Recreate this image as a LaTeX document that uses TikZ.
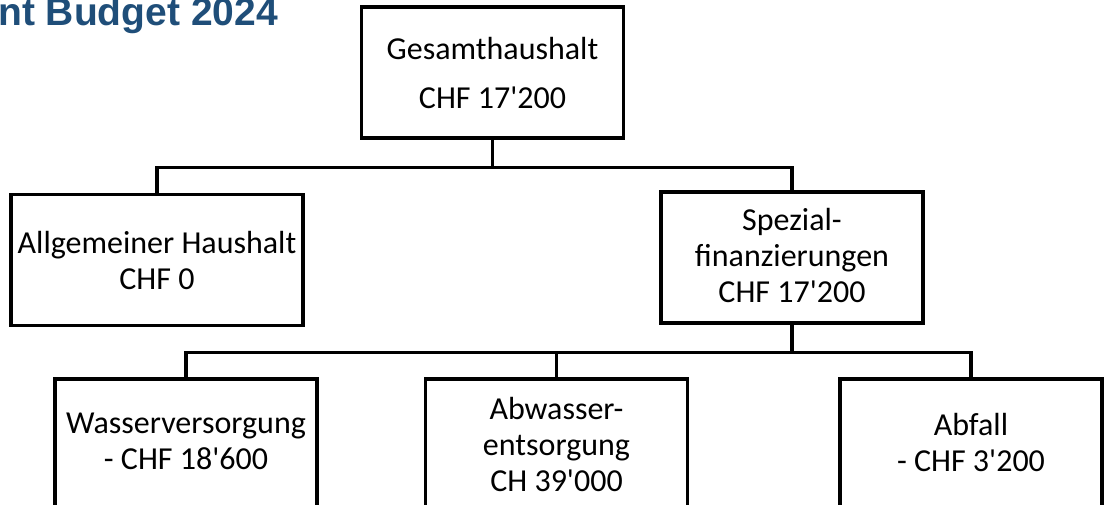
\documentclass[tikz,border=0pt]{standalone}
\usepackage{fontspec}
\setmainfont{Carlito}[Ligatures=TeXOff]
\newfontfamily\titlefont{Liberation Sans}
\usetikzlibrary{positioning}
\definecolor{titleblue}{HTML}{1F4E79}

\begin{document}
\begin{tikzpicture}[x=1pt, y=-1pt,
		box/.style={draw, line width=3.2pt, minimum width=262pt, minimum height=131pt, inner sep=0pt},
		boxtext/.style={align=center, inner sep=0pt, font=\fontsize{32}{36}\selectfont},
		link/.style={line width=3.2pt}]
	\useasboundingbox (0,0) rectangle (1104,504);
	\clip (0,0) rectangle (1104,504);
	% title (cut off at the left edge)
	\node[anchor=base east, inner sep=0pt, text=titleblue, font=\titlefont\bfseries\fontsize{39}{44}\selectfont] (title) at (278,25) {nt Budget 2024};
	% boxes
	\node[box] (gesamt) at (492.5,72.5) {};
	\node[box, minimum width=292pt] (allg) at (157,260) {};
	\node[box] (spez) at (792,257.5) {};
	\node[box] (wasser) at (186,444.5) {};
	\node[box] (abwasser) at (556.5,444.5) {};
	\node[box] (abfall) at (971,444.5) {};
	% texts
	\node[boxtext] (gesamt-t) at (gesamt) {Gesamthaushalt\\[13pt]CHF 17'200};
	\node[boxtext] (allg-t) at (allg) {Allgemeiner Haushalt\\CHF 0};
	\node[boxtext, yshift=2pt] (spez-t) at (spez) {Spezial-\\finanzierungen\\CHF 17'200};
	\node[boxtext, yshift=3pt] (wasser-t) at (wasser) {Wasserversorgung\\- CHF 18'600};
	\node[boxtext] (abwasser-t) at (abwasser) {Abwasser-\\entsorgung\\CH 39'000};
	\node[boxtext, yshift=2.5pt] (abfall-t) at (abfall) {Abfall\\- CHF 3'200};
	% connectors
	\draw[link] (gesamt.south) -- ++(0,28) coordinate (split1);
	\draw[link] (allg.north) |- (split1) -| (spez.north);
	\draw[link] (spez.south) -- ++(0,28) coordinate (split2);
	\draw[link] (wasser.north) |- (split2) -| (abfall.north);
	\draw[link] (abwasser.north) -- (abwasser.north |- split2);
\end{tikzpicture}
\end{document}
